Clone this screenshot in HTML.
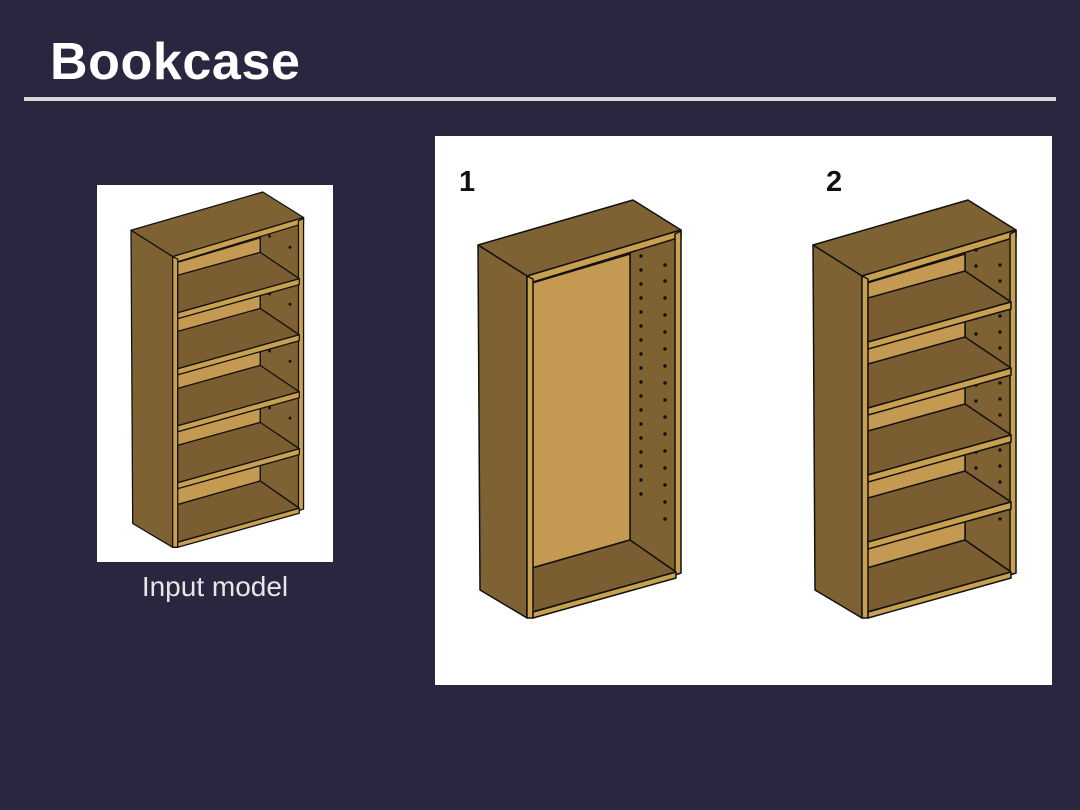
<!DOCTYPE html>
<html><head><meta charset="utf-8"><style>
html,body{margin:0;padding:0;}
body{width:1080px;height:810px;background:#29273f;position:relative;overflow:hidden;font-family:"Liberation Sans",Arial,sans-serif;}
</style></head><body>
<svg width="1080" height="810" viewBox="0 0 1080 810" xmlns="http://www.w3.org/2000/svg" style="position:absolute;left:0;top:0">
<defs>
<g id="frame" stroke="#111" stroke-width="1.5" stroke-linejoin="round">
  <polygon points="630,250 676,236 676,572 630,540" fill="#7f6233"/>
  <polygon points="532,283 630,254 630,540 532,568" fill="#c49a52"/>
  <polygon points="532,568 630,540 676,572 532,612" fill="#7a5d30"/>
  <polygon points="478,245 633,200 681,230 527,276" fill="#7f6233"/>
  <polygon points="478,245 527,276 527,618 480,590" fill="#7f6233"/>
  <polygon points="527,276 681,230 681,237 533,282" fill="#c8a050"/>
  <polygon points="527,276 533,279 533,618 527,618" fill="#c8a050"/>
  <polygon points="675,234 681,231 681,573 675,575" fill="#c8a050"/>
  <polygon points="533,612 676,572 676,578 533,618" fill="#c8a050"/>
</g>
<g id="shelf1" stroke="#111" stroke-width="1.5" stroke-linejoin="round">
  <polygon points="533,298 630,271 676,302 533,342" fill="#7a5d30"/>
  <polygon points="533,342 676,302 676,309 533,349" fill="#c8a050"/>
</g>
</defs>
<text x="50" y="79" font-family="Liberation Sans, Arial, sans-serif" font-weight="bold" font-size="52" letter-spacing="0.6" fill="#ffffff">Bookcase</text>
<rect x="24" y="97" width="1032" height="4" fill="#d8d8d8"/>
<rect x="97" y="185" width="236" height="377" fill="#ffffff"/>
<rect x="435" y="136" width="617" height="549" fill="#ffffff"/>
<text x="459" y="191" font-weight="bold" font-size="29" fill="#111">1</text>
<text x="826" y="191" font-weight="bold" font-size="29" fill="#111">2</text>
<text x="215" y="596" text-anchor="middle" font-size="28" fill="#e6e6e6">Input model</text>

<g id="bc1">
<use href="#frame"/>
<g fill="#111">
<circle cx="641" cy="256" r="1.7"/><circle cx="641" cy="270" r="1.7"/><circle cx="641" cy="284" r="1.7"/><circle cx="641" cy="298" r="1.7"/><circle cx="641" cy="312" r="1.7"/><circle cx="641" cy="326" r="1.7"/><circle cx="641" cy="340" r="1.7"/><circle cx="641" cy="354" r="1.7"/><circle cx="641" cy="368" r="1.7"/><circle cx="641" cy="382" r="1.7"/><circle cx="641" cy="396" r="1.7"/><circle cx="641" cy="410" r="1.7"/><circle cx="641" cy="424" r="1.7"/><circle cx="641" cy="438" r="1.7"/><circle cx="641" cy="452" r="1.7"/><circle cx="641" cy="466" r="1.7"/><circle cx="641" cy="480" r="1.7"/><circle cx="641" cy="494" r="1.7"/>
<circle cx="665" cy="265" r="1.7"/><circle cx="665" cy="281" r="1.7"/><circle cx="665" cy="298" r="1.7"/><circle cx="665" cy="315" r="1.7"/><circle cx="665" cy="332" r="1.7"/><circle cx="665" cy="349" r="1.7"/><circle cx="665" cy="366" r="1.7"/><circle cx="665" cy="383" r="1.7"/><circle cx="665" cy="400" r="1.7"/><circle cx="665" cy="417" r="1.7"/><circle cx="665" cy="434" r="1.7"/><circle cx="665" cy="451" r="1.7"/><circle cx="665" cy="468" r="1.7"/><circle cx="665" cy="485" r="1.7"/><circle cx="665" cy="502" r="1.7"/><circle cx="665" cy="519" r="1.7"/>
</g>
</g>

<g id="bc2" transform="translate(335,0)">
<use href="#frame"/>
<g fill="#111">
<circle cx="641" cy="250" r="1.7"/><circle cx="641" cy="266" r="1.7"/><circle cx="665" cy="265" r="1.7"/><circle cx="665" cy="281" r="1.7"/>
<circle cx="641" cy="318" r="1.7"/><circle cx="641" cy="334" r="1.7"/><circle cx="665" cy="316" r="1.7"/><circle cx="665" cy="332" r="1.7"/><circle cx="665" cy="348" r="1.7"/>
<circle cx="641" cy="385" r="1.7"/><circle cx="641" cy="401" r="1.7"/><circle cx="665" cy="383" r="1.7"/><circle cx="665" cy="399" r="1.7"/><circle cx="665" cy="415" r="1.7"/>
<circle cx="641" cy="452" r="1.7"/><circle cx="641" cy="468" r="1.7"/><circle cx="665" cy="450" r="1.7"/><circle cx="665" cy="466" r="1.7"/><circle cx="665" cy="482" r="1.7"/>
<circle cx="665" cy="519" r="1.7"/>
</g>
<use href="#shelf1"/>
<use href="#shelf1" transform="translate(0,66)"/>
<use href="#shelf1" transform="translate(0,133)"/>
<use href="#shelf1" transform="translate(0,200)"/>
</g>

<g transform="translate(-275.3,22) scale(0.85)">
<use href="#frame"/>
<use href="#shelf1"/>
<use href="#shelf1" transform="translate(0,66)"/>
<use href="#shelf1" transform="translate(0,133)"/>
<use href="#shelf1" transform="translate(0,200)"/>
<g fill="#111">
<circle cx="641" cy="252" r="1.7"/><circle cx="665" cy="265" r="1.7"/><circle cx="641" cy="320" r="1.7"/><circle cx="665" cy="332" r="1.7"/><circle cx="641" cy="387" r="1.7"/><circle cx="665" cy="399" r="1.7"/><circle cx="641" cy="454" r="1.7"/><circle cx="665" cy="466" r="1.7"/>
</g>
</g>
</svg>
</body></html>
